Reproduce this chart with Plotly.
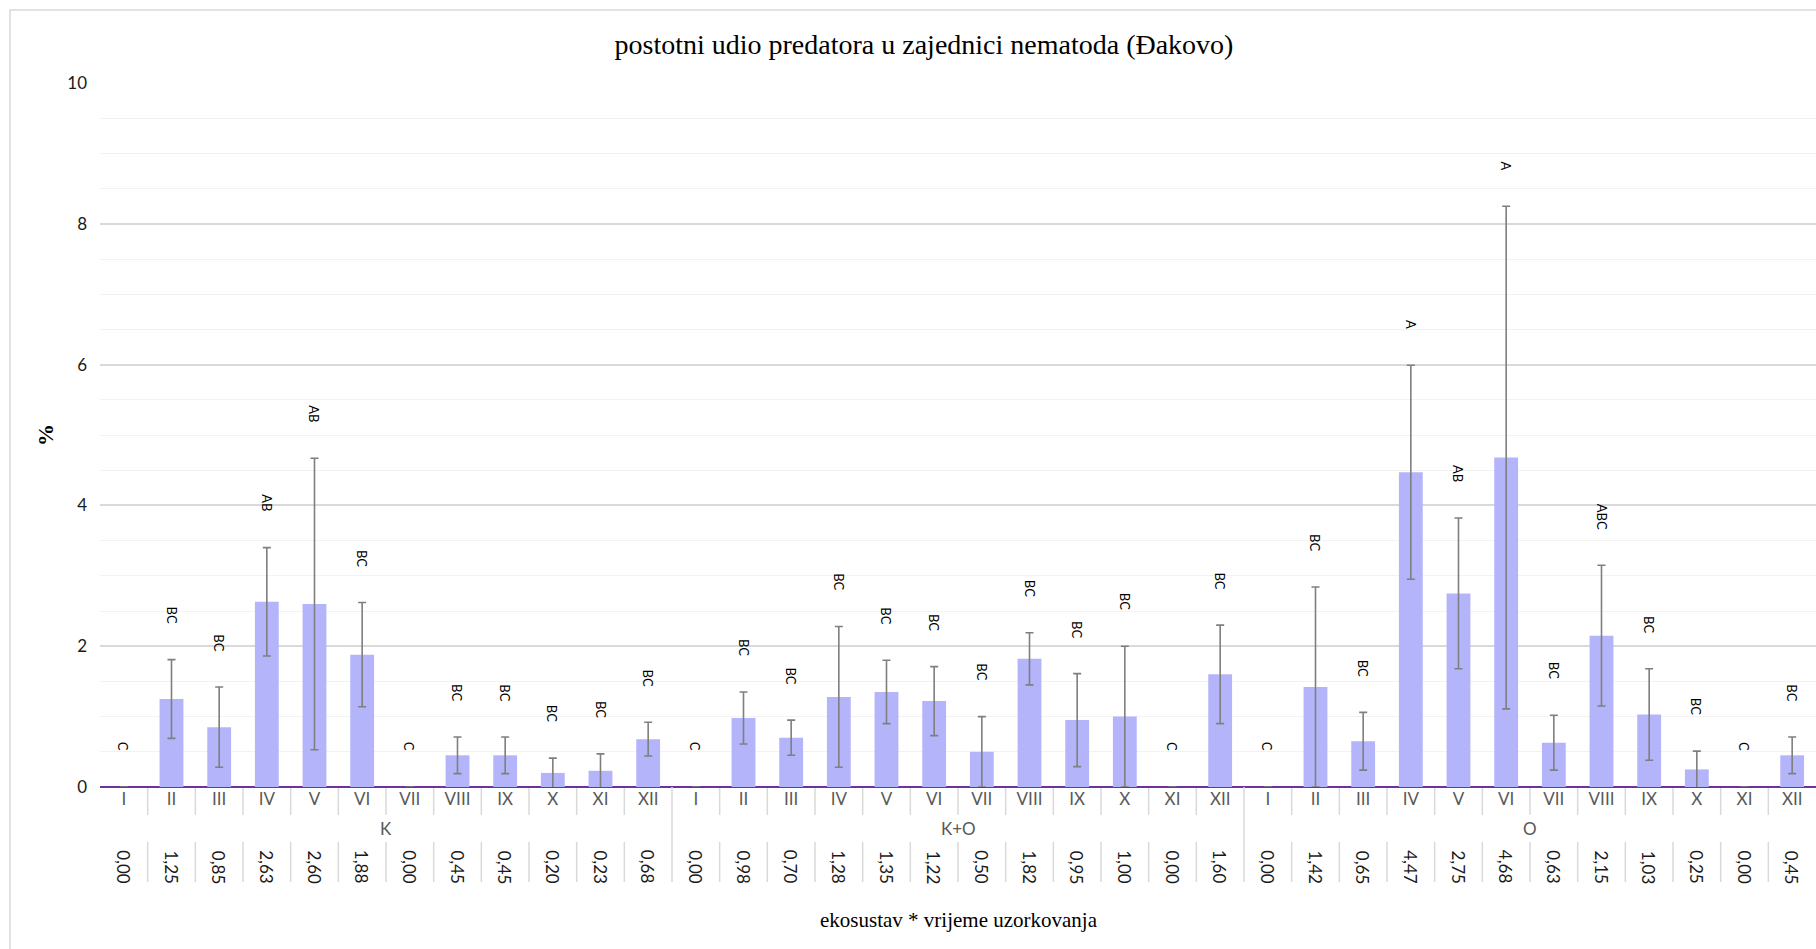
import plotly.graph_objects as go

W, H = 1816, 949

groups = ["K", "K+O", "O"]
months = ["I", "II", "III", "IV", "V", "VI", "VII", "VIII", "IX", "X", "XI", "XII"]

mean_k = [0.00, 1.25, 0.85, 2.63, 2.60, 1.88, 0.00, 0.45, 0.45, 0.20, 0.23, 0.68]
mean_ko = [0.00, 0.98, 0.70, 1.28, 1.35, 1.22, 0.50, 1.82, 0.95, 1.00, 0.00, 1.60]
mean_o = [0.00, 1.42, 0.65, 4.47, 2.75, 4.68, 0.63, 2.15, 1.03, 0.25, 0.00, 0.45]

err_k = [0.00, 0.56, 0.57, 0.77, 2.07, 0.74, 0.00, 0.26, 0.26, 0.21, 0.24, 0.24]
err_ko = [0.00, 0.37, 0.25, 1.00, 0.45, 0.49, 0.50, 0.37, 0.66, 1.00, 0.00, 0.70]
err_o = [0.00, 1.42, 0.41, 1.52, 1.07, 3.57, 0.39, 1.00, 0.65, 0.26, 0.00, 0.26]

letters_k = ["C", "BC", "BC", "AB", "AB", "BC", "C", "BC", "BC", "BC", "BC", "BC"]
letters_ko = ["C", "BC", "BC", "BC", "BC", "BC", "BC", "BC", "BC", "BC", "C", "BC"]
letters_o = ["C", "BC", "BC", "A", "AB", "A", "BC", "ABC", "BC", "BC", "C", "BC"]

means = mean_k + mean_ko + mean_o
errs = err_k + err_ko + err_o
letters = letters_k + letters_ko + letters_o
ticks = months * len(groups)
n = len(means)
xs = list(range(n))

# pixel helpers (layout positions only)
def px_x(p):
    return p / W

def px_y(p):
    return 1 - p / H

SANS = "Lato, 'Open Sans', sans-serif"
SERIF = "'Liberation Serif', 'Times New Roman', serif"
GRID = "#d9d9d9"

fig = go.Figure()
fig.add_trace(go.Bar(
    x=xs, y=means,
    marker=dict(color="#b4b4fa", line=dict(width=0)),
    width=0.5,
    error_y=dict(type="data", array=[e if e > 0 else None for e in errs],
                 color="#7f7f7f", thickness=1.6, width=4),
    hoverinfo="skip",
))

fig.update_layout(
    width=W, height=H, autosize=False,
    margin=dict(l=0, r=0, t=0, b=0, pad=0, autoexpand=False),
    paper_bgcolor="white", plot_bgcolor="white",
    showlegend=False,
    xaxis=dict(
        domain=[px_x(100), 1], range=[-0.5, n - 0.5], automargin=False,
        tickmode="array", tickvals=xs, ticktext=ticks,
        tickfont=dict(family=SANS, size=17, color="#595959"),
        ticks="", showgrid=False, zeroline=False, showline=False,
    ),
    yaxis=dict(
        domain=[px_y(787), px_y(83)], range=[0, 10], automargin=False,
        dtick=2, showgrid=True, gridcolor=GRID, gridwidth=1.5,
        minor=dict(dtick=0.5, showgrid=True, gridcolor="#f2f2f2", gridwidth=1),
        zeroline=True, zerolinecolor="#7030a0", zerolinewidth=2,
        tickfont=dict(family=SANS, size=17, color="#1a1a1a"),
        ticks="", ticklabelstandoff=12, showline=False,
    ),
    title=dict(text="postotni udio predatora u zajednici nematoda (Đakovo)",
               x=px_x(924), xanchor="center", y=px_y(44), yanchor="middle",
               font=dict(family=SERIF, size=28, color="#000000")),
)

annotations = []
shapes = []

# significance letters above error bars
for i, (m, e, t) in enumerate(zip(means, errs, letters)):
    annotations.append(dict(
        x=i, y=m + e, xref="x", yref="y", text=t, showarrow=False,
        textangle=90, yanchor="bottom", xanchor="center", yshift=34,
        font=dict(family=SANS, size=13, color="#000000"),
    ))

# value row under the axis
for i, m in enumerate(means):
    annotations.append(dict(
        x=i, y=px_y(867), xref="x", yref="paper",
        text=f"{m:.2f}".replace(".", ","), showarrow=False,
        textangle=90, xanchor="center", yanchor="middle",
        font=dict(family=SANS, size=17, color="#1a1a1a"),
    ))

# group labels
for g, name in enumerate(groups):
    annotations.append(dict(
        x=g * 12 + 5.5, y=px_y(828), xref="x", yref="paper",
        text=name, showarrow=False, xanchor="center", yanchor="middle",
        font=dict(family=SANS, size=17, color="#595959"),
    ))

# axis titles
annotations.append(dict(
    x=px_x(959), y=px_y(920), xref="paper", yref="paper",
    text="ekosustav * vrijeme uzorkovanja", showarrow=False,
    xanchor="center", yanchor="middle",
    font=dict(family=SERIF, size=21, color="#000000"),
))
annotations.append(dict(
    x=px_x(46), y=px_y(435), xref="paper", yref="paper",
    text="<b>%</b>", showarrow=False, textangle=-90,
    xanchor="center", yanchor="middle",
    font=dict(family=SERIF, size=22, color="#000000"),
))

# category separators
for i in range(1, n):
    b = i - 0.5
    if i % 12 == 0:
        shapes.append(dict(type="line", xref="x", yref="paper", x0=b, x1=b,
                           y0=px_y(787), y1=px_y(882),
                           line=dict(color=GRID, width=1.5)))
    else:
        shapes.append(dict(type="line", xref="x", yref="paper", x0=b, x1=b,
                           y0=px_y(788), y1=px_y(815),
                           line=dict(color=GRID, width=1.5)))
        shapes.append(dict(type="line", xref="x", yref="paper", x0=b, x1=b,
                           y0=px_y(842), y1=px_y(882),
                           line=dict(color=GRID, width=1.5)))

# chart area border
shapes.append(dict(type="rect", xref="paper", yref="paper",
                   x0=px_x(10), x1=1.02, y0=-0.02, y1=px_y(10),
                   line=dict(color="#d9d9d9", width=1.5), layer="below"))

fig.update_layout(annotations=annotations, shapes=shapes)

fig.write_html(
    "out.html",
    config={"displayModeBar": False, "responsive": False},
    post_script="document.body.style.margin='0';document.body.style.overflow='hidden';",
)
